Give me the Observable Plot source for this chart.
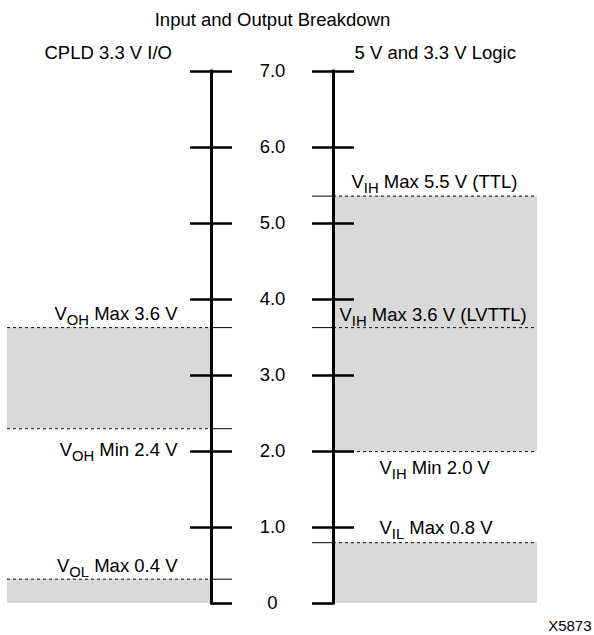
<!DOCTYPE html>
<html><head><meta charset="utf-8">
<script src="https://cdn.jsdelivr.net/npm/d3@7"></script>
<script src="https://cdn.jsdelivr.net/npm/@observablehq/plot@0.6"></script>
<style>
body{margin:0;background:#fff;}
#chart svg{display:block;}
</style></head><body><div id="chart"></div>
<script>
// ---- data ----
const title = "Input and Output Breakdown";
const groupTitles = ["CPLD 3.3 V I/O", "5 V and 3.3 V Logic"];
const tickValues = [0, 1, 2, 3, 4, 5, 6, 7];
const tickLabels = ["0", "1.0", "2.0", "3.0", "4.0", "5.0", "6.0", "7.0"];
// CPLD 3.3 V I/O: levels as drawn (volts on the scale) and their labels
const cpldLevels = [3.63, 2.30, 0.32];
const cpldLabels = ["V_{OH} Max 3.6 V", "V_{OH} Min 2.4 V", "V_{OL} Max 0.4 V"];
const cpldBands = [[2.30, 3.63], [0, 0.32]];
// 5 V and 3.3 V Logic
const logicLevels = [5.36, 3.63, 2.00, 0.80];
const logicLabels = ["V_{IH} Max 5.5 V (TTL)", "V_{IH} Max 3.6 V (LVTTL)", "V_{IH} Min 2.0 V", "V_{IL} Max 0.8 V"];
const logicBands = [[2.00, 5.36], [0, 0.80]];
const figureId = "X5873";

// ---- layout (pixels) ----
const W = 594, H = 635;
const axL = 211, axR = 333, mid = 272, tick = 21;
const regL = 7, regR = 537;
const cpldLabelEnd = 177;
const cpldLabelDy = [-8, 27, -7];
const logicLabelX = [351, 339, 379, 379];
const logicLabelDy = [-8, -7, 22, -9];
const font = "Liberation Sans, Arial, Helvetica, sans-serif";
const fs = 18.5;
const gray = "#d9d9d9";

const marks = [
  // shaded bands
  Plot.rect(cpldBands, {x1: regL, x2: axL, y1: d => d[0], y2: d => d[1], fill: gray}),
  Plot.rect(logicBands, {x1: axR, x2: regR, y1: d => d[0], y2: d => d[1], fill: gray}),
  // dashed level lines
  Plot.ruleY(cpldLevels, {y: d => d, x1: regL, x2: axL, stroke: "#111", strokeWidth: 1, strokeDasharray: "3,3"}),
  Plot.ruleY(logicLevels, {y: d => d, x1: axR, x2: regR, stroke: "#111", strokeWidth: 1, strokeDasharray: "3,3"}),
  // thin level ticks
  Plot.ruleY(cpldLevels, {y: d => d, x1: axL, x2: axL + tick, stroke: "#000", strokeWidth: 1}),
  Plot.ruleY(logicLevels, {y: d => d, x1: axR - tick, x2: axR, stroke: "#000", strokeWidth: 1}),
  // axes
  Plot.ruleX([axL, axR], {x: d => d, y1: d3.min(tickValues), y2: d3.max(tickValues), stroke: "#000", strokeWidth: 3, strokeLinecap: "square"}),
  // major ticks
  Plot.ruleY(tickValues, {y: d => d, x1: d => d === 0 ? axL : axL - tick, x2: axL + tick, stroke: "#000", strokeWidth: 2.6}),
  Plot.ruleY(tickValues, {y: d => d, x1: axR - tick, x2: d => d === 0 ? axR : axR + tick, stroke: "#000", strokeWidth: 2.6}),
  // tick labels
  Plot.text(tickValues, {x: mid, y: d => d, text: (d, i) => tickLabels[i], fontSize: fs, fill: "#000"}),
  // headings
  Plot.text([title], {x: mid, frameAnchor: "top", text: d => d, dy: 25, lineAnchor: "bottom", textAnchor: "middle", fontSize: fs, fill: "#000"}),
  Plot.text([groupTitles[0]], {x: 44, frameAnchor: "top", text: d => d, dy: 58, lineAnchor: "bottom", textAnchor: "start", fontSize: fs, fill: "#000"}),
  Plot.text([groupTitles[1]], {x: 354, frameAnchor: "top", text: d => d, dy: 58, lineAnchor: "bottom", textAnchor: "start", fontSize: fs, fill: "#000"}),
  // level labels
  ...cpldLabels.map((t, i) => Plot.text([cpldLevels[i]], {x: cpldLabelEnd, y: d => d, text: () => t, dy: cpldLabelDy[i], lineAnchor: "bottom", textAnchor: "end", fontSize: fs, fill: "#000"})),
  ...logicLabels.map((t, i) => Plot.text([logicLevels[i]], {x: logicLabelX[i], y: d => d, text: () => t, dy: logicLabelDy[i], lineAnchor: "bottom", textAnchor: "start", fontSize: fs, fill: "#000"})),
  // figure id
  Plot.text([figureId], {frameAnchor: "bottom-right", text: d => d, dx: -3, dy: -5, lineAnchor: "bottom", textAnchor: "end", fontSize: 15, fill: "#000"})
];

const svg = Plot.plot({
  width: W, height: H,
  marginTop: 0, marginBottom: 0, marginLeft: 0, marginRight: 0,
  x: {domain: [0, W], range: [0, W], axis: null},
  y: {domain: [0, 7], range: [603, 71], axis: null},
  style: {fontFamily: font, background: "#fff", color: "#000", overflow: "visible"},
  marks
});

// subscripts: "V_{OH} ..." -> V<tspan sub>OH</tspan> ...
const ns = "http://www.w3.org/2000/svg";
svg.querySelectorAll("text").forEach(t => {
  const m = t.textContent.match(/^(.*?)_\{(.*?)\}(.*)$/);
  if (!m) return;
  t.textContent = "";
  const a = document.createElementNS(ns, "tspan"); a.textContent = m[1];
  const b = document.createElementNS(ns, "tspan"); b.textContent = m[2];
  b.setAttribute("font-size", "80%"); b.setAttribute("dy", "5");
  const c = document.createElementNS(ns, "tspan"); c.textContent = m[3];
  c.setAttribute("dy", "-5");
  t.append(a, b, c);
});

document.getElementById("chart").appendChild(svg);
</script>
</body></html>
